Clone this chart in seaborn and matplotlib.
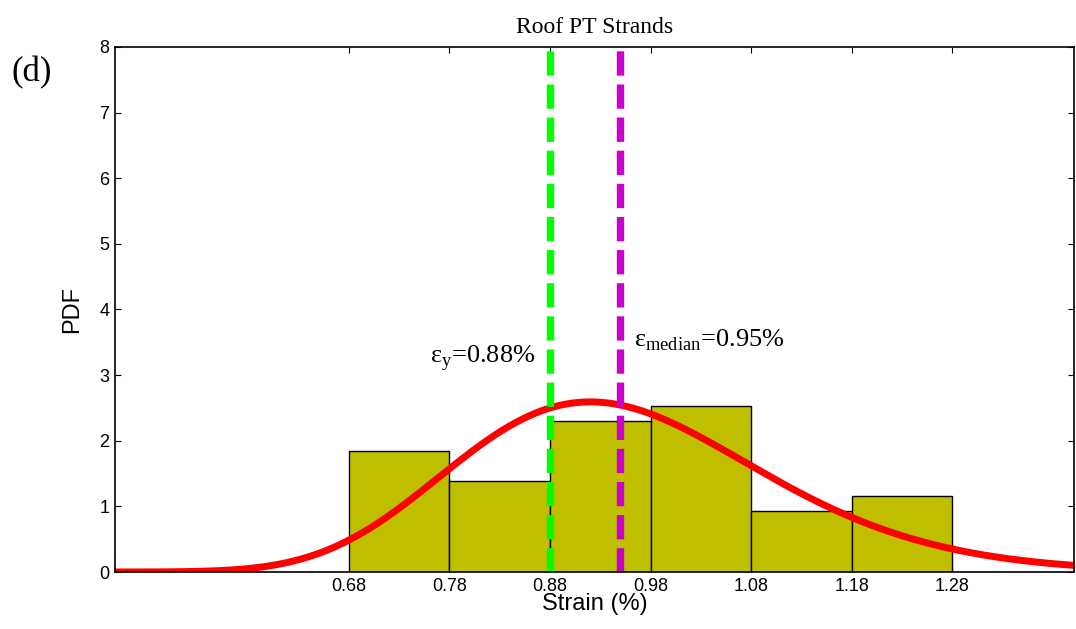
import numpy as np
import pandas as pd
import matplotlib
matplotlib.use("Agg")
import matplotlib.pyplot as plt
import seaborn as sns

# ── Data ──────────────────────────────────────────────────────────────────────
bin_edges = [0.68, 0.78, 0.88, 0.98, 1.08, 1.18, 1.28]
bin_pdf = [1.84, 1.38, 2.30, 2.53, 0.93, 1.16]
tick_labels = ["0.68", "0.78", "0.88", "0.98", "1.08", "1.18", "1.28"]
eps_y = 0.88
eps_median = 0.95
# fitted lognormal (red curve)
fit_mu = -0.056
fit_sigma = 0.165

sns.set_theme(style="white")
plt.rcParams.update({"font.family": ["Liberation Sans", "DejaVu Sans"],
                     "text.color": "black", "axes.labelcolor": "black",
                     "mathtext.fontset": "custom",
                     "mathtext.rm": "Liberation Serif"})

fig = plt.figure(figsize=(10.76, 6.29), dpi=100)
ax = fig.add_axes([0.1069, 0.0906, 0.8915, 0.8347])

centers = [(a + b) / 2 for a, b in zip(bin_edges[:-1], bin_edges[1:])]
hist_df = pd.DataFrame({"strain": centers, "pdf": bin_pdf})
sns.histplot(data=hist_df, x="strain", weights="pdf", bins=bin_edges, stat="count",
             color="#bfbf00", alpha=1, edgecolor="black", linewidth=1, ax=ax)

xs = np.linspace(0.448, 1.401, 400)
pdf = np.exp(-(np.log(xs) - fit_mu) ** 2 / (2 * fit_sigma ** 2)) / (xs * fit_sigma * np.sqrt(2 * np.pi))
sns.lineplot(x=xs, y=pdf, color="#ff0000", lw=5, ax=ax)

ax.axvline(eps_y, color="#00ff00", lw=5.3, dashes=(3.3, 1.2))
ax.axvline(eps_median, color="#cc00cc", lw=5.3, dashes=(3.3, 1.2))

serif = ["Liberation Serif", "DejaVu Serif"]
ax.text(eps_y - 0.014, 3.2, r"ε$_{\mathregular{y}}$=0.88%", ha="right", va="baseline",
        fontsize=19, family=serif)
ax.text(eps_median + 0.014, 3.44, r"ε$_{\mathregular{median}}$=0.95%", ha="left", va="baseline",
        fontsize=19, family=serif)

ax.set_xlim(0.448, 1.401)
ax.set_ylim(0, 8)
ax.set_xticks(bin_edges)
ax.set_xticklabels(tick_labels)
ax.set_yticks(range(0, 9))
ax.tick_params(direction="in", length=4, width=0.8, labelsize=13, pad=4,
               top=True, right=True, bottom=True, left=True, colors="black")
for s in ax.spines.values():
    s.set_color("black")
    s.set_linewidth(1.2)
ax.set_xlabel("Strain (%)", fontsize=17, labelpad=-1)
ax.set_ylabel("PDF", fontsize=17, labelpad=12)
ax.set_title("Roof PT Strands", fontsize=17, family=serif, pad=10)
fig.text(0.011, 0.884, "(d)", fontsize=25, family=serif, ha="left", va="center")

fig.savefig("out.png", dpi=100)
